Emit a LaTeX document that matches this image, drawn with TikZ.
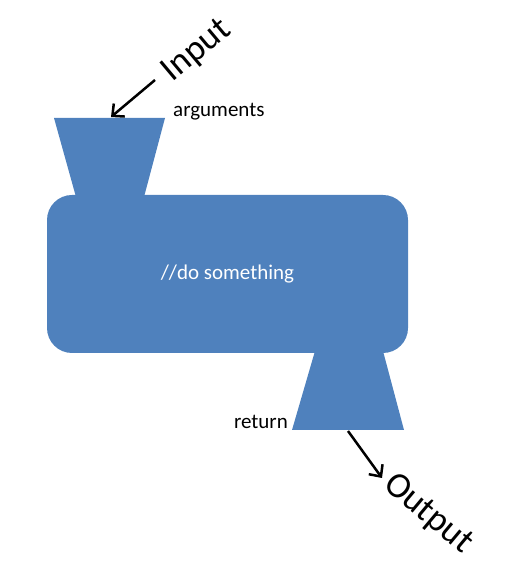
\documentclass[tikz,border=0pt]{standalone}
\usepackage{fontspec}
\setmainfont{Carlito}
\usetikzlibrary{arrows.meta}
\definecolor{funnelblue}{HTML}{4F81BD}
\begin{document}
\begin{tikzpicture}[x=1pt,y=1pt,
    funnel/.style={fill=funnelblue},
    flow/.style={-{Straight Barb[length=9pt,width=17pt,line width=2.5pt]},line width=2.5pt},
    biglab/.style={font=\fontsize{36}{36}\selectfont,inner sep=0pt},
    smalllab/.style={font=\fontsize{21}{21}\selectfont,inner sep=0pt}]
      \useasboundingbox (0,0) rectangle (508,562);

      \fill[funnel] (54,444) -- (165,444) -- (144,365) -- (76,365) -- cycle;
      \fill[funnel] (315,211) -- (383,211) -- (404,132) -- (292,132) -- cycle;
      \node[funnel, rounded corners=25pt, minimum width=361pt, minimum height=158pt,
            text=white, font=\fontsize{21}{21}\selectfont] (body) at (227.5,288) {//do something};

      \coordinate (argsin) at (111,445);
      \coordinate (retout) at (348,131);
      \coordinate (intail) at (155,482);
      \coordinate (outtip) at (382,84);

      \node[smalllab, anchor=base west] (args) at (173,445) {arguments};
      \node[smalllab, anchor=base east] (ret)  at (288,133) {return};
      \node[biglab, rotate=40]  (inlab)  at (197,511) {Input};
      \node[biglab, rotate=-40] (outlab) at (428,48)  {Output};

      \draw[flow] (intail) -- (argsin);
      \draw[flow] (retout) -- (outtip);
\end{tikzpicture}
\end{document}
